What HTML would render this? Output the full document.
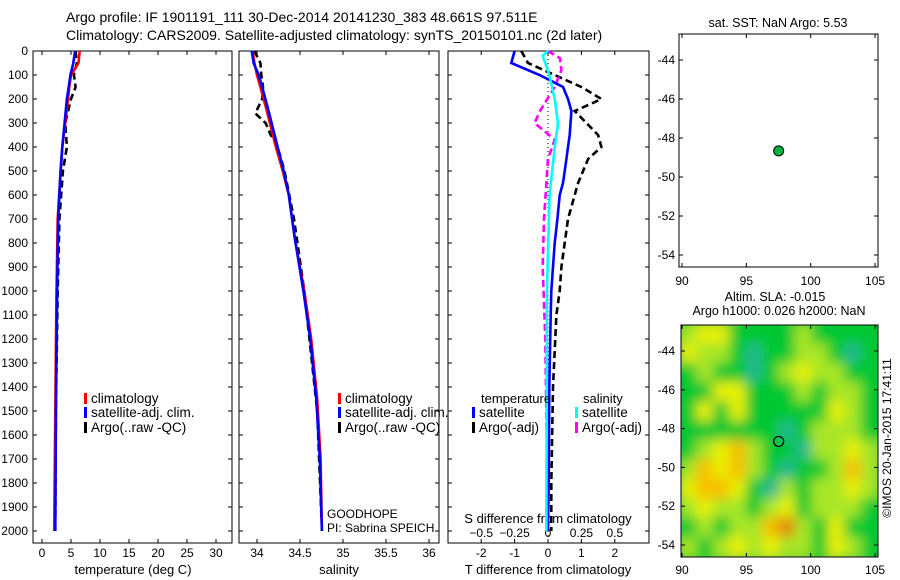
<!DOCTYPE html>
<html><head><meta charset="utf-8">
<style>
body{margin:0;background:#fff;}
svg{display:block;font-family:"Liberation Sans",sans-serif;font-size:12px;}
</style></head>
<body>
<svg id="fig" width="900" height="580" viewBox="0 0 900 580">
<defs>
<filter id="blur" x="-10%" y="-10%" width="120%" height="120%"><feGaussianBlur stdDeviation="6"/></filter>
<clipPath id="mapclip"><rect x="681" y="325" width="197" height="232"/></clipPath>
</defs>
<text x="66" y="22" font-size="14">Argo profile: IF 1901191_111 30-Dec-2014 20141230_383 48.661S 97.511E</text>
<text x="66" y="40" font-size="14">Climatology: CARS2009. Satellite-adjusted climatology: synTS_20150101.nc (2d later)</text>
<g id="g"></g>
</svg>
<script>
// ---- data ----
const depthT = [0,50,100,150,200,300,400,500,700,1000,1500,2000];
const tempClim = [6.5,6.3,5.0,4.7,4.5,4.0,3.5,3.2,2.7,2.5,2.3,2.1];
const tempSat = [5.7,5.4,4.9,4.6,4.3,3.9,3.5,3.2,2.8,2.6,2.4,2.3];
const depthA = [0,50,100,150,200,300,400,500,700,1000,1500,1950];
const tempArgo = [5.8,6.0,5.5,5.8,5.0,4.0,4.3,3.6,3.0,2.7,2.4,2.3];
const depthS = [0,50,100,150,230,300,400,500,600,780,1000,1200,1450,1700,2000];
const salClim = [33.95,33.97,34.0,34.04,34.1,34.15,34.22,34.3,34.37,34.44,34.55,34.63,34.7,34.74,34.755];
const salSat = [33.94,33.96,34.02,34.06,34.12,34.17,34.24,34.31,34.37,34.44,34.54,34.62,34.69,34.73,34.755];
const depthSA = [0,50,100,150,200,260,300,350,400,500,700,1000,1500,1950];
const salArgo = [33.97,34.04,34.05,34.07,34.06,33.98,34.1,34.16,34.24,34.32,34.43,34.55,34.7,34.75];
const depthD = [0,50,100,150,200,250,350,400,450,550,600,700,800,900,1000,1100,1400,1800,2000];
const dTsat = [-1.0,-1.1,-0.25,0.45,0.6,0.7,0.65,0.6,0.55,0.45,0.35,0.28,0.2,0.15,0.1,0.08,0.04,0.02,0.0];
const dTargo = [-0.8,-0.6,0.2,1.0,1.6,0.8,1.5,1.6,1.2,0.9,0.8,0.6,0.5,0.4,0.35,0.25,0.15,0.1,0.1];
const depthDS = [0,20,100,200,300,400,600,1000,1500,2000];
const dSsat = [0,-0.04,0.01,0.05,0.075,0.05,0.012,-0.008,-0.01,-0.012];
const depthDSA = [0,30,80,150,250,300,370,450,700,900,1200,2000];
const dSargo = [0,0.09,0.1,0.05,-0.06,-0.1,0.05,0,-0.03,-0.04,-0.02,0];
const argoLon = 97.511, argoLat = -48.661;
const slaGrid = [
[2,3,3,1,1,1,1,2,1,1,1,1],
[3,2,2,1,0,1,1,2,2,1,0,1],
[1,2,1,1,0,1,2,3,2,2,1,1],
[1,1,3,3,1,1,1,2,1,2,2,1],
[1,3,1,3,1,1,1,1,1,3,2,1],
[1,1,1,1,1,1,0,1,2,2,2,1],
[1,2,3,4,2,1,1,0,2,2,3,2],
[2,4,3,4,2,1,0,1,1,2,4,2],
[3,4,4,3,1,0,2,1,2,2,3,2],
[2,3,2,2,1,2,3,1,2,2,2,1],
[1,2,1,2,2,4,5,2,1,3,1,1],
[2,1,2,3,2,3,2,2,1,3,2,1]];
const depthTicks = [0,100,200,300,400,500,600,700,800,900,1000,1100,1200,1300,1400,1500,1600,1700,1800,1900,2000];
const tTicks = [0,5,10,15,20,25,30];
const sTicks = [34,34.5,35,35.5,36];
const dTTicks = [-2,-1,0,1,2];
const dSTicks = [-0.5,-0.25,0,0.25,0.5];
const lonTicks = [90,95,100,105];
const latTicks = [-44,-46,-48,-50,-52,-54];

// ---- scales ----
const Y = d => 51 + d*0.24;
const XT = t => 42 + t*5.8;
const XS = s => 257 + (s-34)*86;
const XD = t => 548 + t*33.4;
const XDS = s => 548 + s*4*33.4;
const MX = lon => 682 + (lon-90)*12.87;
const MY1 = lat => 60 + (-44-lat)*19.5;
const MY2 = lat => 351 + (-44-lat)*19.4;

const g = document.getElementById('g');
const NS = 'http://www.w3.org/2000/svg';
function mk(tag, at, parent){const e=document.createElementNS(NS,tag);for(const k in at)e.setAttribute(k,at[k]);(parent||g).appendChild(e);return e;}
function txt(x,y,s,anchor,size){const e=mk('text',{x:x,y:y,'text-anchor':anchor||'start','font-size':size||12});e.textContent=s;return e;}

function frame(x0,y0,x1,y1,name){
  const r=mk('rect',{x:x0,y:y0,width:x1-x0,height:y1-y0,fill:'none',stroke:'#000','stroke-width':1});
  
  
}

const cols=['#20b890','#00c832','#a8e628','#e8f000','#f7bf00','#e0860c'];
const hg=mk('g',{'clip-path':'url(#mapclip)'});


const hb=mk('g',{filter:'url(#blur)'},hg);
const nr=slaGrid.length, nc=slaGrid[0].length;
const cw=(878-681)/nc, ch=(557-325)/nr;
mk('rect',{x:671,y:315,width:217,height:252,fill:'#00c832'},hb);
slaGrid.forEach((row,i)=>row.forEach((v,j)=>{
  const c=mk('rect',{x:(681+j*cw-1).toFixed(1),y:(325+i*ch-1).toFixed(1),width:(cw+2).toFixed(1),height:(ch+2).toFixed(1),fill:cols[v]},hb);
  
  
}));

frame(33,51,232,543,'temperature-panel-frame');
frame(239,51,439,543,'salinity-panel-frame');
frame(448,51,649,543,'difference-panel-frame');

depthTicks.forEach(d=>{
  const t=txt(28,Y(d)+4,String(d),'end');
  
  
  [[33,1],[232,-1],[239,1],[439,-1],[448,1],[649,-1]].forEach(([x,s])=>{
    const l=mk('line',{x1:x,x2:x+4*s,y1:Y(d),y2:Y(d),stroke:'#000'});
    
    
  });
});
function xticks(vals,fx,labelY,top){
  vals.forEach(v=>{
    const x=fx(v);
    const a=mk('line',{x1:x,x2:x,y1:543,y2:539,stroke:'#000'});
    
    
    if(top){const b=mk('line',{x1:x,x2:x,y1:51,y2:55,stroke:'#000'});
      
      }
    const t=txt(x,labelY,String(v),'middle');
    
    
  });
}
xticks(tTicks,XT,557,true);
xticks(sTicks,XS,557,true);
xticks(dTTicks,v=>XD(v),557,true);
dSTicks.forEach(v=>{
  const t=txt(XDS(v),537,String(v).replace('-','\u2212'),'middle');
  
  
});
[['temperature (deg C)',133,574,'temperature-axis-title'],['salinity',339,574,'salinity-axis-title'],['T difference from climatology',548,574,'t-difference-axis-title'],['S difference from climatology',548,523,'s-difference-axis-title']].forEach(([s,x,y,n])=>{
  const t=txt(x,y,s,'middle',13);
  
  
});

function line(xs,ds,fx,color,dash,name){
  const pts=xs.map((v,i)=>fx(v).toFixed(1)+','+Y(ds[i]).toFixed(1)).join(' ');
  const p=mk('polyline',{points:pts,fill:'none',stroke:color,'stroke-width':2.6,'stroke-dasharray':dash?'7,4':'none'});
  
  
}
const z=mk('line',{x1:XD(0),x2:XD(0),y1:51,y2:543,stroke:'#000','stroke-dasharray':'1,3'});



line(tempArgo,depthA,XT,'#000',true,'temperature-argo-line');
line(tempClim,depthT,XT,'#ff0000',false,'temperature-climatology-line');
line(tempSat,depthT,XT,'#0000ff',false,'temperature-satellite-line');
line(salArgo,depthSA,XS,'#000',true,'salinity-argo-line');
line(salClim,depthS,XS,'#ff0000',false,'salinity-climatology-line');
line(salSat,depthS,XS,'#0000ff',false,'salinity-satellite-line');
line(dTargo,depthD,XD,'#000',true,'t-diff-argo-line');
line(dSargo,depthDSA,XDS,'#ff00ff',true,'s-diff-argo-line');
line(dTsat,depthD,XD,'#0000ff',false,'t-diff-satellite-line');
line(dSsat,depthDS,XDS,'#00ffff',false,'s-diff-satellite-line');

function legend(x,y,color,label,name){
  const r=mk('rect',{x:x,y:y-10,width:3,height:11,fill:color});
  
  
  const t=txt(x+7,y,label,'start',13.5);
  
  
}
[[84,'temperature'],[338,'salinity']].forEach(([x,n])=>{
  legend(x,403,'#ff0000','climatology',n+'-legend-climatology');
  legend(x,417,'#0000ff','satellite-adj. clim.',n+'-legend-satellite');
  legend(x,432,'#000','Argo(..raw -QC)',n+'-legend-argo');
});
const lt=txt(481,403,'temperature','start',13);
const ls=txt(583,403,'salinity','start',13);
legend(472,417,'#0000ff','satellite','diff-legend-t-satellite');
legend(472,432,'#000','Argo(-adj)','diff-legend-t-argo');
legend(575,417,'#00ffff','satellite','diff-legend-s-satellite');
legend(575,432,'#ff00ff','Argo(-adj)','diff-legend-s-argo');
const gh=txt(327,518,'GOODHOPE');
const pi=txt(327,532,'PI: Sabrina SPEICH');

const t1=txt(778,27,'sat. SST: NaN Argo: 5.53','middle',12.5);
const t2=txt(775,301,'Altim. SLA: -0.015','middle',12.5);
const t3=txt(779,315,'Argo h1000: 0.026 h2000: NaN','middle',12.5);

frame(679,34,878,267,'sst-map-frame');
frame(681,325,878,557,'sla-map-frame');
function mapAxes(my,x0,y0,y1,xlabY,name){
  lonTicks.forEach(v=>{
    const x=MX(v);
    mk('line',{x1:x,x2:x,y1:y1,y2:y1-4,stroke:'#000'});
    mk('line',{x1:x,x2:x,y1:y0,y2:y0+4,stroke:'#000'});
    const t=txt(x,xlabY,String(v),'middle');
    
    
  });
  latTicks.forEach(v=>{
    const y=my(v);
    mk('line',{x1:x0,x2:x0+4,y1:y,y2:y,stroke:'#000'});
    mk('line',{x1:878,x2:874,y1:y,y2:y,stroke:'#000'});
    const t=txt(675,y+4,String(v),'end');
    
    
  });
}
mapAxes(MY1,679,34,267,285,'sst-map');
mapAxes(MY2,681,325,557,574,'sla-map');
const p1=mk('circle',{cx:MX(argoLon),cy:MY1(argoLat),r:5,fill:'#00b040',stroke:'#000','stroke-width':1});


const p2=mk('circle',{cx:MX(argoLon),cy:MY2(argoLat),r:5,fill:'none',stroke:'#000','stroke-width':1.2});


const cp=txt(0,0,'\u00a9IMOS 20-Jan-2015 17:41:11','middle');
cp.setAttribute('transform','translate(891,438) rotate(-90)');


</script>
</body></html>
